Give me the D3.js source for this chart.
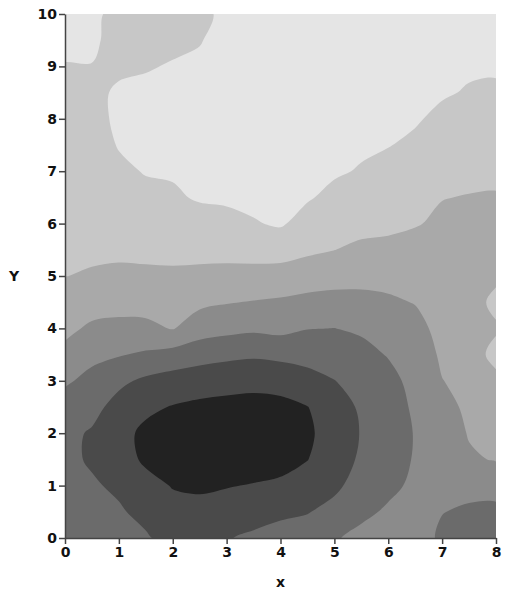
<!DOCTYPE html>
<html>
<head>
<meta charset="utf-8">
<script src="https://cdn.jsdelivr.net/npm/d3@7"></script>
<style>
  body { margin: 0; background: #fff; }
  .axis text { font-family: "DejaVu Sans", sans-serif; font-weight: bold; font-size: 14px; fill: #111; }
  .axis path, .axis line { stroke: #444; stroke-width: 1.5; }
  .title { font-family: "DejaVu Sans", sans-serif; font-weight: bold; font-size: 14px; fill: #111; }
</style>
</head>
<body>
<div class="chart"></div>
<script>
var xTicks = [0, 1, 2, 3, 4, 5, 6, 7, 8];
var yTicks = [0, 1, 2, 3, 4, 5, 6, 7, 8, 9, 10];

// grid spacing of the sampled surface (x 0..8, y 0..10)
var gridStep = 0.5;
var levels = [0.5, 1.5, 2.5, 3.5, 4.5, 5.5];
var levelColors = ["#e5e5e5", "#c7c7c7", "#a9a9a9", "#8b8b8b", "#6b6b6b", "#4a4a4a", "#222222"];

// one column per x (0, 0.5, ... 8), values from y = 0 up to y = 10
var zCols = [
  [4.1, 4.2, 4.3, 4.3, 4.25, 3.9, 3.36, 2.76, 2.27, 1.87, 1.49, 1.37, 1.25, 1.13, 1.01, 0.89, 0.76, 0.64, 0.52, 0.40, 0.28],
  [4.15, 4.25, 4.4, 4.6, 4.6, 4.2, 3.77, 3.27, 2.66, 2.1, 1.56, 1.39, 1.27, 1.14, 1.02, 0.89, 0.77, 0.64, 0.52, 0.38, 0.25],
  [4.3, 4.4, 4.65, 5.1, 5.2, 4.85, 4.29, 3.43, 2.75, 2.17, 1.66, 1.35, 1.12, 0.9, 0.67, 0.45, 0.35, 0.42, 0.6, 0.75, 0.85],
  [4.4, 4.75, 5.2, 5.65, 5.7, 5.31, 4.68, 3.64, 2.73, 2.14, 1.66, 1.30, 1.02, 0.73, 0.45, 0.35, 0.3, 0.35, 0.55, 0.7, 0.8],
  [4.85, 5.2, 5.55, 5.9, 5.9, 5.55, 4.9, 3.88, 2.45, 2.04, 1.64, 1.28, 0.95, 0.61, 0.42, 0.32, 0.27, 0.3, 0.45, 0.65, 0.75],
  [5.0, 5.3, 5.6, 6.0, 6.0, 5.7, 5.04, 4.12, 3.03, 2.3, 1.71, 1.24, 0.83, 0.42, 0.3, 0.22, 0.18, 0.2, 0.3, 0.56, 0.9],
  [4.55, 5.1, 5.55, 6.0, 6.05, 5.8, 5.12, 4.28, 3.21, 2.45, 1.77, 1.21, 0.73, 0.38, 0.25, 0.18, 0.12, 0.1, 0.1, 0.1, 0.12],
  [4.35, 4.85, 5.45, 5.95, 6.05, 5.85, 5.2, 4.37, 3.33, 2.55, 1.81, 1.15, 0.56, 0.3, 0.2, 0.12, 0.08, 0.05, 0.05, 0.05, 0.05],
  [4.2, 4.65, 5.35, 5.8, 5.95, 5.75, 5.15, 4.26, 3.23, 2.63, 1.89, 1.1, 0.4, 0.25, 0.18, 0.12, 0.08, 0.05, 0.05, 0.05, 0.05],
  [4.0, 4.55, 5.1, 5.52, 5.65, 5.52, 4.84, 4.17, 3.47, 2.77, 2.02, 1.33, 0.84, 0.42, 0.3, 0.22, 0.15, 0.1, 0.08, 0.06, 0.05],
  [3.6, 4.2, 4.7, 5.0, 5.1, 5.0, 4.52, 4.0, 3.51, 2.82, 2.15, 1.49, 1.11, 0.72, 0.4, 0.3, 0.22, 0.15, 0.1, 0.08, 0.06],
  [3.2, 3.75, 4.1, 4.35, 4.45, 4.35, 4.15, 3.8, 3.36, 2.77, 2.21, 1.66, 1.26, 0.91, 0.56, 0.38, 0.28, 0.2, 0.15, 0.1, 0.08],
  [2.95, 3.35, 3.75, 3.95, 4.0, 3.95, 3.8, 3.44, 3.04, 2.65, 2.19, 1.7, 1.33, 1.04, 0.75, 0.47, 0.35, 0.26, 0.2, 0.15, 0.12],
  [2.95, 3.1, 3.3, 3.42, 3.45, 3.35, 3.2, 3.05, 2.8, 2.46, 2.12, 1.78, 1.45, 1.18, 0.91, 0.65, 0.42, 0.32, 0.25, 0.2, 0.15],
  [3.7, 3.47, 3.25, 3.1, 2.95, 2.75, 2.52, 2.36, 2.21, 2.07, 1.92, 1.78, 1.63, 1.48, 1.21, 0.94, 0.68, 0.42, 0.32, 0.25, 0.2],
  [4.0, 3.65, 3.2, 2.6, 2.45, 2.35, 2.25, 1.9, 2.0, 1.85, 1.85, 1.75, 1.65, 1.53, 1.32, 1.07, 0.81, 0.56, 0.4, 0.32, 0.25],
  [4.1, 3.75, 3.1, 2.45, 2.1, 1.9, 1.7, 1.25, 1.6, 1.3, 1.65, 1.62, 1.58, 1.54, 1.38, 1.13, 0.88, 0.62, 0.4, 0.32, 0.25]
];

var margin = { top: 14, right: 11, bottom: 59, left: 65 };
var width = 507 - margin.left - margin.right;
var height = 597 - margin.top - margin.bottom;

var svg = d3.select('.chart')
  .append('svg')
    .attr('width', 507)
    .attr('height', 597)
  .append('g')
    .attr('transform', `translate(${margin.left}, ${margin.top})`);

var xScale = d3.scaleLinear().domain([0, 8]).range([0, width]);
var yScale = d3.scaleLinear().domain([0, 10]).range([height, 0]);

var nx = zCols.length;
var ny = zCols[0].length;
var values = [];
for (var j = 0; j < ny; j++) {
  for (var i = 0; i < nx; i++) values.push(zCols[i][j]);
}

svg.append('clipPath').attr('id', 'plot-clip')
  .append('rect').attr('width', width).attr('height', height);

var plot = svg.append('g').attr('clip-path', 'url(#plot-clip)');

plot.append('rect')
  .attr('width', width)
  .attr('height', height)
  .attr('fill', levelColors[0]);

var contours = d3.contours().size([nx, ny]).thresholds(levels)(values);

var ringLine = d3.line()
  .x(p => xScale((p[0] - 0.5) * gridStep))
  .y(p => yScale((p[1] - 0.5) * gridStep))
  .curve(d3.curveCatmullRomClosed.alpha(0.5));

function contourPath(c) {
  var d = '';
  c.coordinates.forEach(poly => {
    poly.forEach(ring => { d += ringLine(ring.slice(0, -1)); });
  });
  return d;
}

plot.selectAll('path.band')
  .data(contours)
  .enter().append('path')
    .attr('class', 'band')
    .attr('d', contourPath)
    .attr('fill-rule', 'evenodd')
    .attr('fill', (d, i) => levelColors[i + 1]);

var xAxis = d3.axisBottom(xScale).tickValues(xTicks).tickSize(6).tickSizeOuter(0).tickPadding(3);
var yAxis = d3.axisLeft(yScale).tickValues(yTicks).tickSize(6).tickSizeOuter(0).tickPadding(2);

svg.append('g')
  .attr('class', 'axis')
  .attr('transform', `translate(0, ${height})`)
  .call(xAxis);

svg.append('g')
  .attr('class', 'axis')
  .call(yAxis);

svg.append('text')
  .attr('class', 'title')
  .attr('x', -51)
  .attr('y', yScale(5) + 5)
  .attr('text-anchor', 'middle')
  .text('Y');

svg.append('text')
  .attr('class', 'title')
  .attr('x', xScale(4))
  .attr('y', height + 49)
  .attr('text-anchor', 'middle')
  .text('x');
</script>
</body>
</html>
